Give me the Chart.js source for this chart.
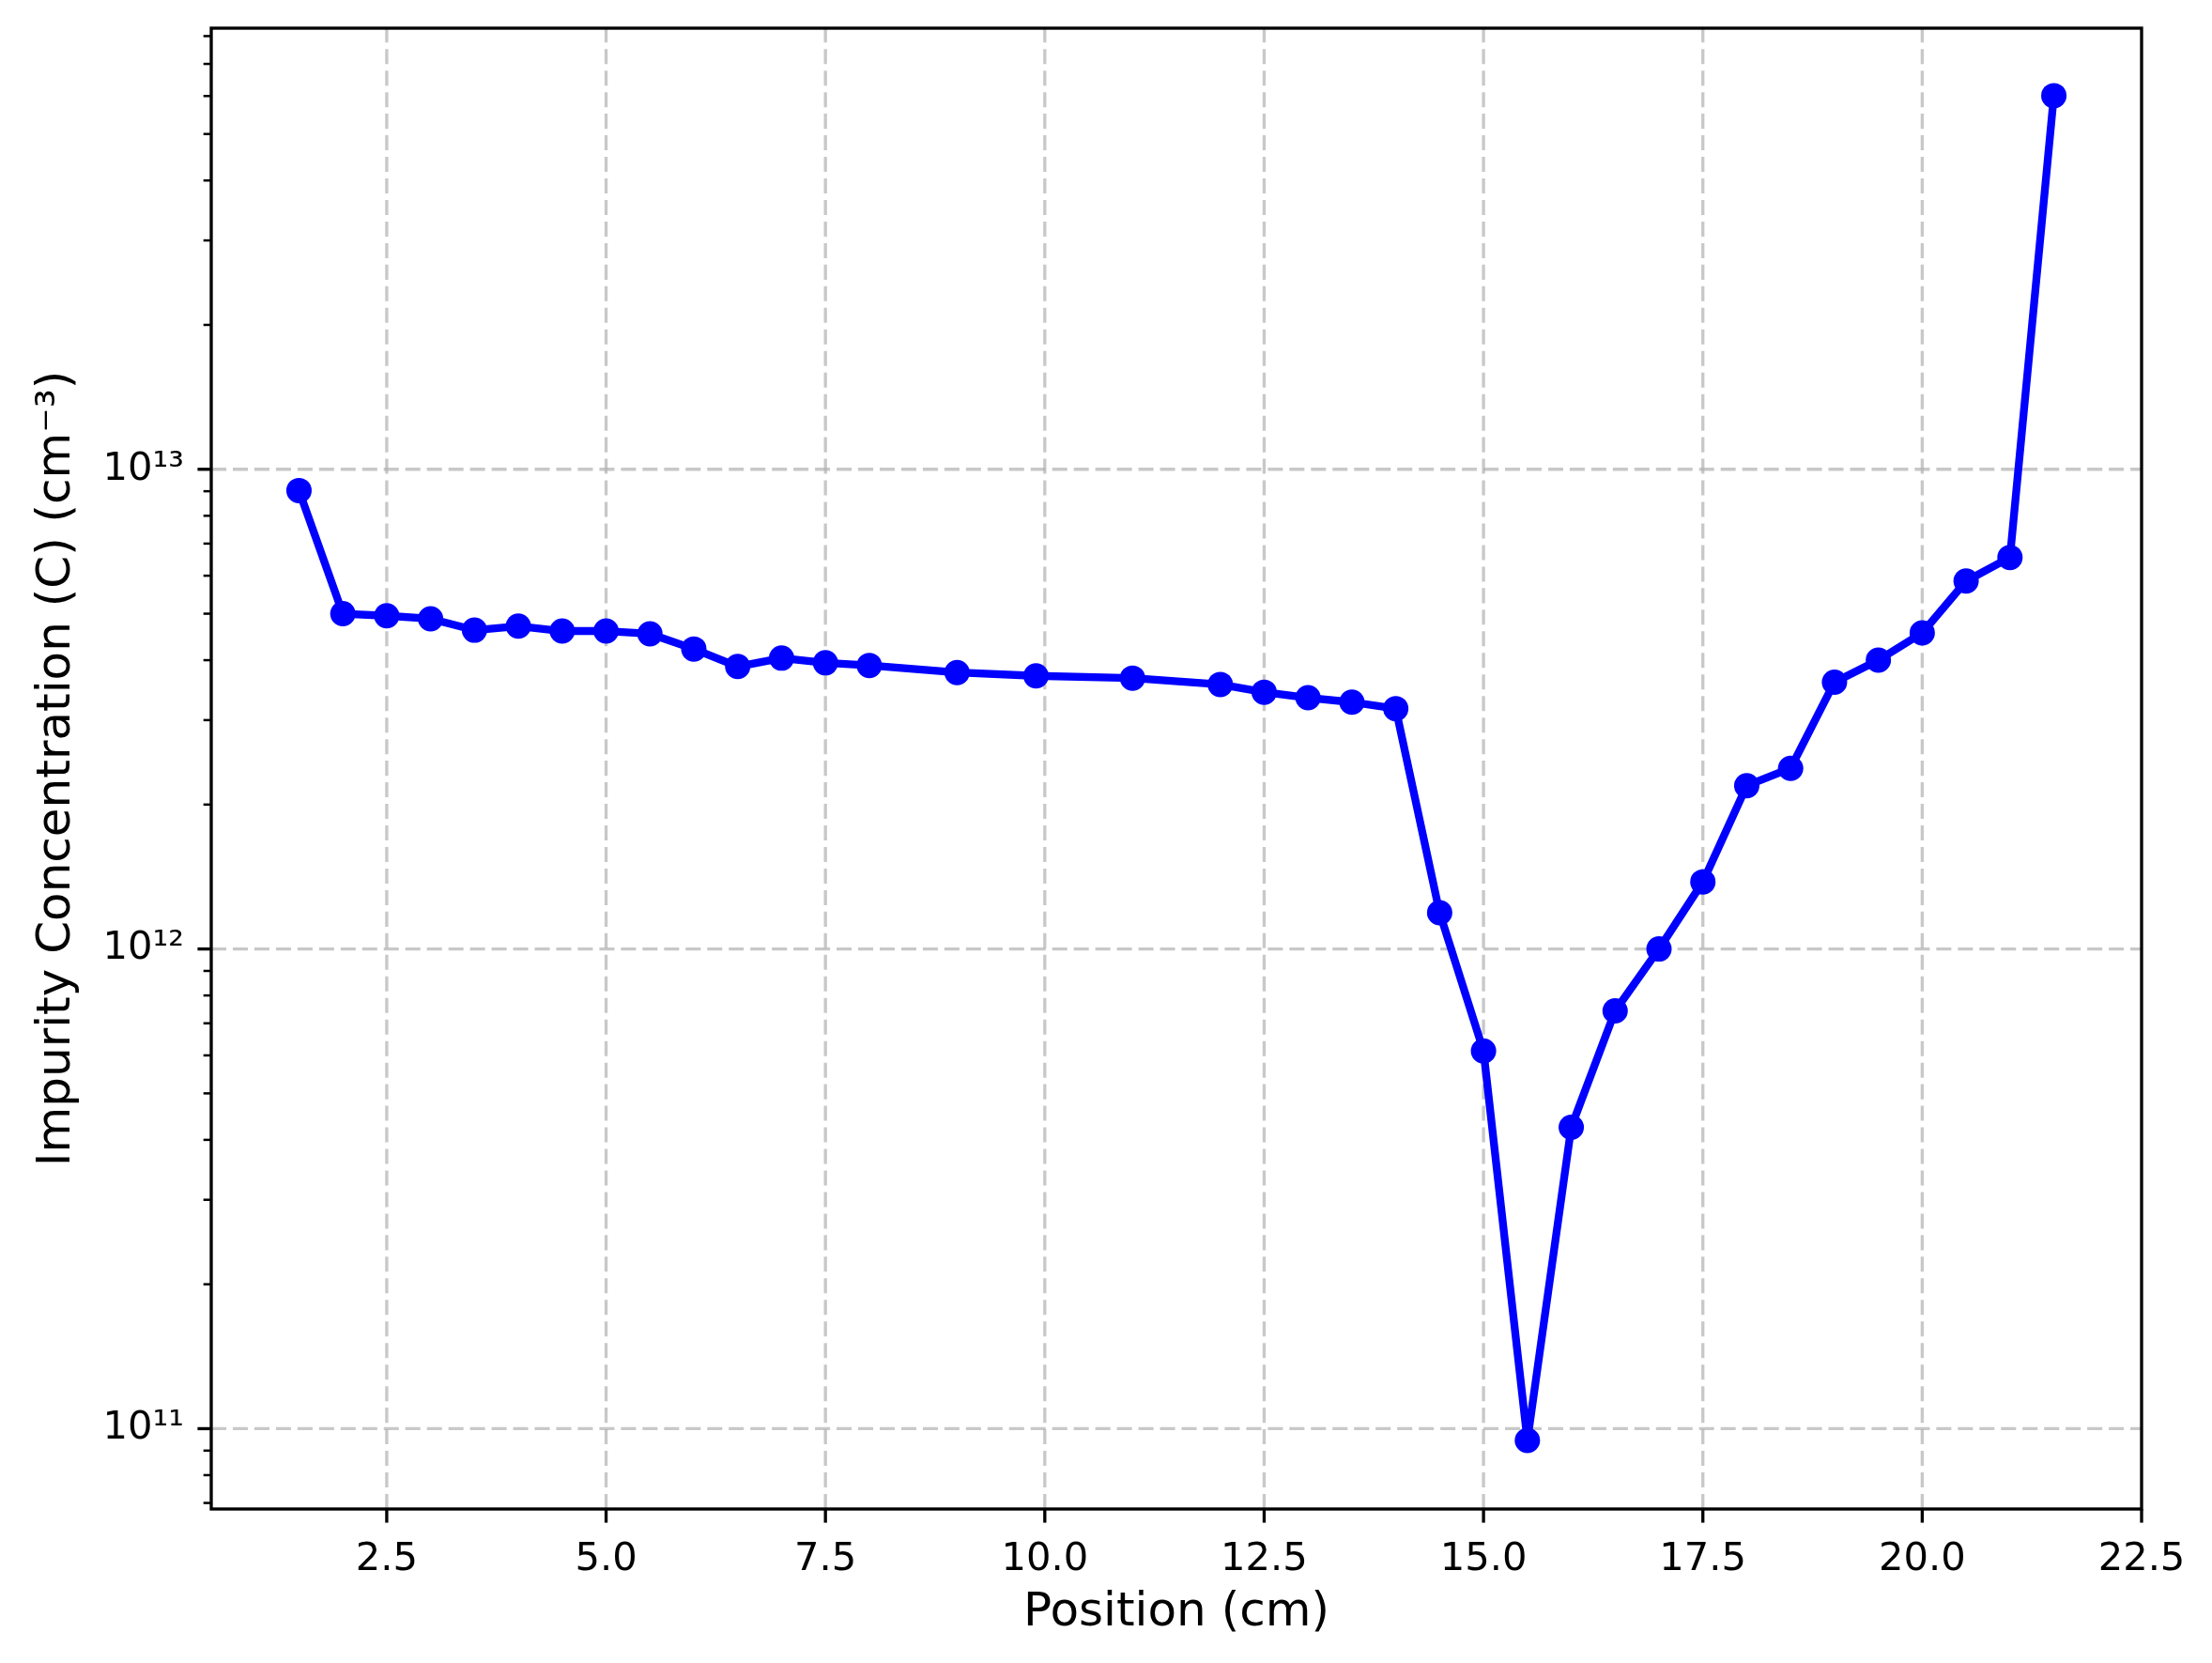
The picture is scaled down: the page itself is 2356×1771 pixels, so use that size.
<!DOCTYPE html>
<html><head><meta charset="utf-8">
<script src="https://cdn.jsdelivr.net/npm/chart.js@4"></script>
<style>html,body{margin:0;padding:0;background:#fff}#wrap{width:2356px;height:1771px}</style>
</head><body><div id="wrap"><canvas id="c" width="2356" height="1771"></canvas></div>
<script>
// ---- data ----
const positions = [1.5, 2.0, 2.5, 3.0, 3.5, 4.0, 4.5, 5.0, 5.5, 6.0, 6.5, 7.0, 7.5, 8.0,
  9.0, 9.9, 11.0, 12.0,
  12.5, 13.0, 13.5, 14.0, 14.5, 15.0, 15.5, 16.0, 16.5, 17.0, 17.5, 18.0, 18.5, 19.0, 19.5, 20.0, 20.5, 21.0, 21.5];
const concentrations = [9.03e12, 5.0e12, 4.95e12, 4.88e12, 4.62e12, 4.71e12, 4.6e12, 4.6e12, 4.54e12, 4.22e12, 3.88e12, 4.04e12, 3.95e12, 3.9e12,
  3.77e12, 3.71e12, 3.67e12, 3.56e12,
  3.43e12, 3.34e12, 3.27e12, 3.17e12, 1.19e12, 6.13e11, 9.45e10, 4.25e11, 7.43e11, 1.0e12, 1.38e12, 2.19e12, 2.38e12, 3.60e12, 4.0e12, 4.56e12, 5.85e12, 6.55e12, 6.01e13];
const xTickValues = [2.5, 5.0, 7.5, 10.0, 12.5, 15.0, 17.5, 20.0, 22.5];
const xTickLabels = ['2.5', '5.0', '7.5', '10.0', '12.5', '15.0', '17.5', '20.0', '22.5'];
const yMajorValues = [1e11, 1e12, 1e13];
const yMajorLabels = ['10\u00b9\u00b9', '10\u00b9\u00b2', '10\u00b9\u00b3'];
const xLimits = [0.5, 22.5];
const yLimits = [6.80e10, 8.31e13];
const xTitle = 'Position (cm)';
const yTitle = 'Impurity Concentration (C) (cm\u207b\u00b3)';

// minor log ticks (2..9 x 10^n) inside the limits
const yMinorValues = [];
for (let e = 10; e <= 13; e++) for (let m = 2; m <= 9; m++) {
  const v = m * Math.pow(10, e);
  if (v >= yLimits[0] && v <= yLimits[1]) yMinorValues.push(v);
}

const FONT = 'DejaVu Sans';
const PT = 300 / 72;

const mplAxes = {
  id: 'mplAxes',
  beforeDatasetsDraw(chart) {
    const {ctx, chartArea: a, scales: {x, y}} = chart;
    ctx.save();
    ctx.strokeStyle = 'rgba(176,176,176,0.7)';
    ctx.lineWidth = 0.8 * PT;
    ctx.setLineDash([3.7 * 0.8 * PT * 1.3, 1.6 * 0.8 * PT * 1.3]);
    xTickValues.forEach(v => {
      const px = x.getPixelForValue(v);
      if (px <= a.left + 2 || px >= a.right - 2) return;
      ctx.beginPath(); ctx.moveTo(px, a.bottom); ctx.lineTo(px, a.top); ctx.stroke();
    });
    yMajorValues.forEach(v => {
      const py = y.getPixelForValue(v);
      if (py <= a.top + 2 || py >= a.bottom - 2) return;
      ctx.beginPath(); ctx.moveTo(a.left, py); ctx.lineTo(a.right, py); ctx.stroke();
    });
    ctx.restore();
  },
  afterDraw(chart) {
    const {ctx, chartArea: a, scales: {x, y}} = chart;
    ctx.save();
    ctx.setLineDash([]);
    ctx.strokeStyle = '#000';
    ctx.lineWidth = 0.8 * PT;
    const maj = 3.5 * PT, mnr = 2 * PT;
    xTickValues.forEach(v => {
      const px = x.getPixelForValue(v);
      ctx.beginPath(); ctx.moveTo(px, a.bottom); ctx.lineTo(px, a.bottom + maj); ctx.stroke();
    });
    yMajorValues.forEach(v => {
      const py = y.getPixelForValue(v);
      ctx.beginPath(); ctx.moveTo(a.left, py); ctx.lineTo(a.left - maj, py); ctx.stroke();
    });
    ctx.lineWidth = 0.6 * PT;
    yMinorValues.forEach(v => {
      const py = y.getPixelForValue(v);
      ctx.beginPath(); ctx.moveTo(a.left, py); ctx.lineTo(a.left - mnr, py); ctx.stroke();
    });
    ctx.lineWidth = 0.8 * PT;
    ctx.lineJoin = 'miter';
    ctx.strokeRect(a.left, a.top, a.right - a.left, a.bottom - a.top);
    ctx.restore();
  }
};

new Chart(document.getElementById('c'), {
  type: 'line',
  data: {
    datasets: [{
      data: positions.map((p, i) => ({x: p, y: concentrations[i]})),
      borderColor: '#0000ff',
      backgroundColor: '#0000ff',
      borderWidth: 2 * PT,
      borderJoinStyle: 'round',
      borderCapStyle: 'butt',
      pointRadius: 13.5,
      pointHoverRadius: 13.5,
      pointBackgroundColor: '#0000ff',
      pointBorderWidth: 0,
      tension: 0,
      fill: false
    }]
  },
  options: {
    responsive: false,
    devicePixelRatio: 1,
    animation: false,
    events: [],
    layout: {padding: {left: 0, right: 75, top: 30, bottom: 0}},
    plugins: {legend: {display: false}, tooltip: {enabled: false}, title: {display: false}},
    scales: {
      x: {
        type: 'linear',
        min: xLimits[0], max: xLimits[1],
        afterBuildTicks: s => { s.ticks = xTickValues.map(v => ({value: v})); },
        afterFit: s => { s.height = 164; s.paddingLeft = 0; s.paddingRight = 0; },
        grid: {display: false, drawTicks: false},
        border: {display: false},
        ticks: {
          padding: 7 * PT,
          maxRotation: 0, autoSkip: false,
          color: '#000',
          font: {family: FONT, size: 10 * PT},
          callback: (v) => { const i = xTickValues.indexOf(v); return i >= 0 ? xTickLabels[i] : ''; }
        },
        title: {display: true, text: xTitle, color: '#000', font: {family: FONT, size: 12 * PT}, padding: {top: 0, bottom: 23}}
      },
      y: {
        type: 'logarithmic',
        min: yLimits[0], max: yLimits[1],
        afterBuildTicks: s => { s.ticks = yMajorValues.map(v => ({value: v, major: true})); },
        afterFit: s => { s.width = 225; s.paddingTop = 0; s.paddingBottom = 0; },
        grid: {display: false, drawTicks: false},
        border: {display: false},
        ticks: {
          padding: 7 * PT,
          autoSkip: false,
          color: '#000',
          font: {family: FONT, size: 10 * PT},
          callback: (v) => { const i = yMajorValues.indexOf(v); return i >= 0 ? yMajorLabels[i] : ''; }
        },
        title: {display: true, text: yTitle, color: '#000', font: {family: FONT, size: 12 * PT}, padding: {top: 31, bottom: 0}}
      }
    }
  },
  plugins: [mplAxes]
});
</script>
</body></html>
